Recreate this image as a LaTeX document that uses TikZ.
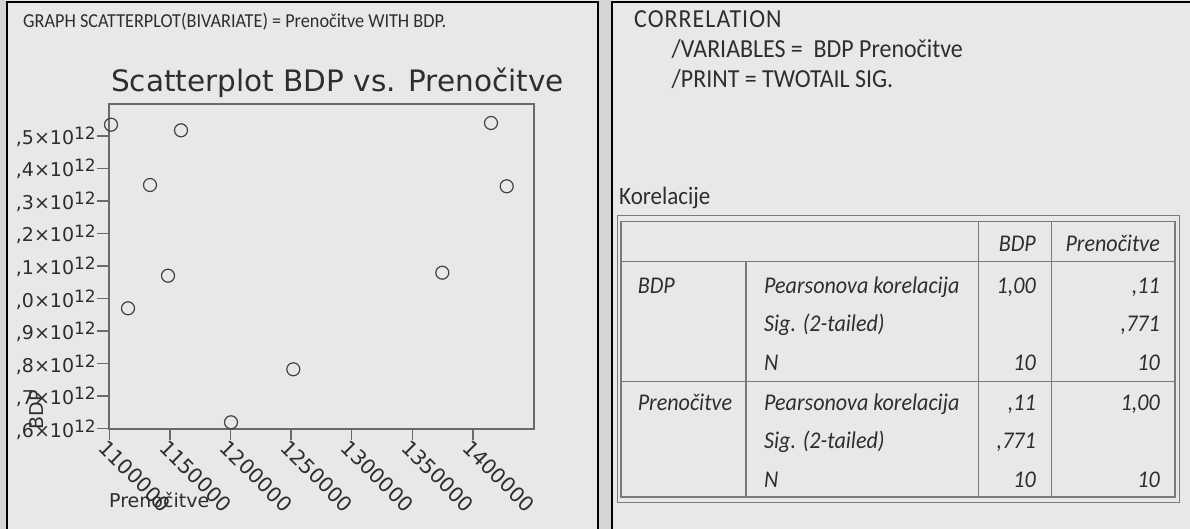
\documentclass[tikz,border=0pt]{standalone}
\usepackage{fontspec}
\newfontfamily\plotfont{DejaVu Sans}
\newfontfamily\spssfont[FakeStretch=0.92]{Carlito}
\usepackage{tikz}
\usetikzlibrary{positioning, calc}
\definecolor{panelbg}{HTML}{E8E8E8}
\definecolor{gapbg}{HTML}{D5D5D5}
\definecolor{ink}{HTML}{2E2E2E}
\definecolor{axisgray}{HTML}{6A6A6A}
\definecolor{rulegray}{HTML}{7A7A7A}
\tikzset{
    obs/.style={circle, draw=ink!90, line width=1.2pt, minimum size=13pt, inner sep=0pt},
    ylab/.style={anchor=base east, inner sep=0pt, text=ink, font=\plotfont\fontsize{19}{19}\selectfont},
    xlab/.style={anchor=north west, rotate=-45, inner sep=0pt, text=ink, font=\plotfont\fontsize{20.5}{20.5}\selectfont},
    syntax/.style={anchor=base west, inner sep=0pt, text=ink, font=\spssfont\fontsize{26}{26}\selectfont},
    cell/.style={anchor=base west, inner sep=0pt, text=ink, font=\spssfont\itshape\fontsize{24}{24}\selectfont},
    num/.style={cell, anchor=base east},
    rule/.style={draw=rulegray, line width=1.3pt},
}
\newcommand{\tenpow}[1]{,#1×10\raisebox{5pt}{\fontsize{17}{17}\selectfont 12}}

\begin{document}
\begin{tikzpicture}[x=1pt,y=-1pt]
    \useasboundingbox (0,0) rectangle (1190,529);
    \fill[gapbg] (0,0) rectangle (1190,529);
    % panels
    \fill[panelbg] (6,0) rectangle (599,529);
    \fill[panelbg] (611,0) rectangle (1190,529);
    \draw[black, line width=2.5pt] (7.2,529) -- (7.2,1.8) -- (597.8,1.8) -- (597.8,529);
    \draw[black, line width=2.5pt] (612.2,529) -- (612.2,1.8) -- (1190,1.8);

    % scatterplot
    \node[anchor=base west, inner sep=0pt, text=ink, font=\spssfont\fontsize{19.8}{19.8}\selectfont] (cmd) at (23,28) {GRAPH SCATTERPLOT(BIVARIATE) = Prenočitve WITH BDP.};
    \node[anchor=base west, inner sep=0pt, text=ink, font=\plotfont\fontsize{29.5}{29.5}\selectfont] (title) at (111,92) {Scatterplot BDP vs. Prenočitve};
    \draw[axisgray, line width=2pt] (109.3,104) rectangle (534,428.5);
    \foreach \lab [count=\i from 0] in {6,7,8,9,0,1,2,3,4,5}{
        \draw[axisgray, line width=1.5pt] (97,428.5-32.5*\i) -- (109.3,428.5-32.5*\i);
        \node[ylab] (ytick\i) at (96,437-32.5*\i) {\tenpow{\lab}};
    }
    \foreach \val [count=\i from 0] in {1100000,1150000,1200000,1250000,1300000,1350000,1400000}{
        \draw[axisgray, line width=1.5pt] (109.3+60.6*\i,428.5) -- (109.3+60.6*\i,440);
        \node[xlab] (xtick\i) at (108.3+60.6*\i,438) {\val};
    }
    \node[rotate=90, inner sep=0pt, text=ink, font=\plotfont\fontsize{19}{19}\selectfont] (ytitle) at (36.5,410) {BDP};
    \node[anchor=base west, inner sep=0pt, text=ink, font=\plotfont\fontsize{19}{19}\selectfont] (xtitle) at (109,507) {Prenočitve};
    \foreach \px/\py [count=\i] in {111/124.7, 181/130.3, 491/123, 150/185, 506.7/186.3,
                                   168/275.7, 442.3/272.7, 128/308.3, 293.3/369.3, 231/422.3}{
        \node[obs] (obs\i) at (\px,\py) {};
    }

    % correlation syntax
    \node[syntax, font=\spssfont\addfontfeature{LetterSpace=4}\fontsize{26}{26}\selectfont] (corr) at (634,28) {CORRELATION};
    \node[syntax] (vars) at (671.5,58) {/VARIABLES =\ \ BDP Prenočitve};
    \node[syntax] (print) at (671.5,88) {/PRINT = TWOTAIL SIG.};
    \node[syntax, font=\spssfont\fontsize{25}{25}\selectfont] (korel) at (619,205) {Korelacije};

    % table
    \draw[rule, line width=1pt] (617,216) rectangle (1179,502.7);
    \draw[rule] (621,221.7) rectangle (1175,497);
    \draw[rule] (621,261.7) -- (1175,261.7);
    \draw[rule] (621,381.7) -- (1175,381.7);
    \draw[rule] (746,261.7) -- (746,497);
    \draw[rule] (978.3,221.7) -- (978.3,497);
    \draw[rule] (1051.7,221.7) -- (1051.7,497);
    \node[num] (hbdp) at (1036,251.7) {BDP};
    \node[num] (hpren) at (1160,251.7) {Prenočitve};
    \node[cell] (rbdp) at (637.6,293) {BDP};
    \node[cell] (rpren) at (637.6,410) {Prenočitve};
    \foreach \y [count=\i] in {293,410}{
        \node[cell] (pear\i) at (764,\y) {Pearsonova korelacija};
        \node[cell] (sig\i) at (764,\y+38.7) {Sig. (2-tailed)};
        \node[cell] (n\i) at (764,\y+77.4) {N};
    }
    \node[num] (a1) at (1036,293) {1,00};
    \node[num] (a3) at (1036,370.4) {10};
    \node[num] (b1) at (1160,293) {,11};
    \node[num] (b2) at (1160,331.7) {,771};
    \node[num] (b3) at (1160,370.4) {10};
    \node[num] (c1) at (1036,410) {,11};
    \node[num] (c2) at (1036,448.7) {,771};
    \node[num] (c3) at (1036,487.4) {10};
    \node[num] (d1) at (1160,410) {1,00};
    \node[num] (d3) at (1160,487.4) {10};
\end{tikzpicture}
\end{document}
